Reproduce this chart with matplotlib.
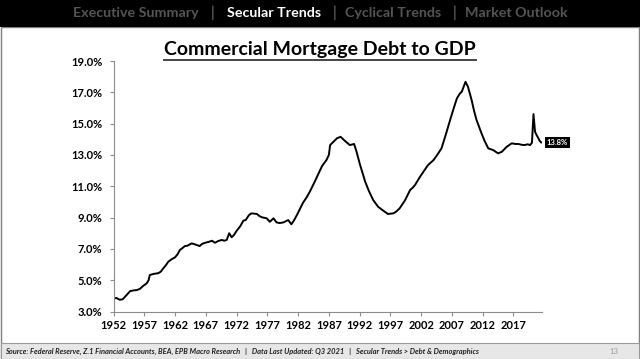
import matplotlib
matplotlib.use("Agg")
import matplotlib.pyplot as plt
from matplotlib.patches import Rectangle
from matplotlib.ticker import FuncFormatter

plt.rcParams['font.family'] = ['Lato', 'DejaVu Sans']

title = "Commercial Mortgage Debt to GDP"
nav_items = ["Executive Summary", "Secular Trends", "Cyclical Trends", "Market Outlook"]
footer = ("Source: Federal Reserve, Z.1 Financial Accounts, BEA, EPB Macro Research   |   "
          "Data Last Updated: Q3 2021   |   Secular Trends > Debt & Demographics")
page_no = "13"

years = [1952.0, 1952.5, 1953.0, 1953.5, 1954.0, 1954.7, 1955.3, 1955.8, 1956.3, 1956.8,
         1957.4, 1957.7, 1957.9, 1958.5, 1959.3, 1959.7, 1960.1, 1960.5, 1960.9, 1961.5,
         1962.0, 1962.4, 1962.8, 1963.2, 1963.6, 1964.0, 1964.7, 1965.3, 1966.0, 1966.4,
         1966.9, 1967.5, 1968.0, 1968.5, 1969.0, 1969.6, 1970.0, 1970.4, 1970.8, 1971.2,
         1971.6, 1972.0, 1972.6, 1973.1, 1973.5, 1974.0, 1974.4, 1975.3, 1975.7, 1976.1,
         1976.9, 1977.4, 1978.0, 1978.5, 1979.0, 1979.6, 1980.4, 1980.9, 1981.3, 1981.8,
         1982.3, 1982.8, 1983.4, 1983.9, 1984.7, 1985.3, 1985.9, 1986.6, 1987.0, 1987.2,
         1988.3, 1988.9, 1989.6, 1990.4, 1991.1, 1991.5, 1992.0, 1992.9, 1993.5, 1994.2,
         1995.0, 1995.8, 1996.6, 1997.5, 1998.0, 1998.5, 1999.4, 2000.2, 2000.6, 2001.0,
         2001.8, 2002.5, 2003.1, 2004.0, 2004.6, 2005.3, 2006.0, 2006.7, 2007.3, 2007.8,
         2008.3, 2008.6, 2009.2, 2009.6, 2010.2, 2010.6, 2011.0, 2011.8, 2012.3, 2012.9,
         2013.7, 2014.5, 2015.1, 2015.9, 2016.7, 2017.3, 2017.8, 2018.3, 2018.8, 2019.3,
         2019.7, 2020.0, 2020.25, 2020.5, 2020.75, 2021.0, 2021.25, 2021.5]
values = [3.84, 3.86, 3.75, 3.78, 4.00, 4.30, 4.35, 4.37, 4.45, 4.63,
          4.80, 5.00, 5.33, 5.40, 5.45, 5.55, 5.76, 5.95, 6.18, 6.35,
          6.46, 6.65, 6.93, 7.05, 7.18, 7.20, 7.35, 7.28, 7.18, 7.32,
          7.39, 7.45, 7.52, 7.39, 7.50, 7.57, 7.52, 7.57, 8.00, 7.74,
          7.90, 8.15, 8.45, 8.80, 8.85, 9.15, 9.27, 9.23, 9.10, 9.02,
          8.95, 8.73, 8.95, 8.69, 8.65, 8.69, 8.84, 8.57, 8.80, 9.16,
          9.55, 9.95, 10.30, 10.65, 11.29, 11.80, 12.30, 12.67, 13.00, 13.63,
          14.06, 14.16, 13.90, 13.63, 13.70, 13.20, 12.46, 11.29, 10.70, 10.12,
          9.69, 9.45, 9.23, 9.27, 9.40, 9.59, 10.12, 10.76, 10.90, 11.08,
          11.60, 12.00, 12.35, 12.67, 13.00, 13.42, 14.30, 15.23, 16.00, 16.61,
          16.93, 17.04, 17.67, 17.36, 16.50, 15.80, 15.23, 14.38, 13.90, 13.42,
          13.31, 13.10, 13.20, 13.52, 13.74, 13.70, 13.70, 13.65, 13.63, 13.68,
          13.63, 13.78, 15.61, 14.48, 14.27, 14.10, 13.90, 13.80]

x_ticks = list(range(1952, 2018, 5))
y_ticks = list(range(3, 20, 2))

W, H = 640, 359
fig = plt.figure(figsize=(W / 100, H / 100), dpi=100)
fig.patch.set_facecolor("white")

def fx(px):
    return px / W

def fy(py):
    return 1 - py / H

# page frame
fig.patches.append(Rectangle((fx(0.5), 0), fx(638.5), fy(27), transform=fig.transFigure,
                             facecolor="none", edgecolor="#7f7f7f", lw=1.0, zorder=0))
# top nav bar
fig.patches.append(Rectangle((0, fy(27)), 1, 27 / H, transform=fig.transFigure,
                             facecolor="black", edgecolor="none", zorder=1))
nav_x = [136, 274.5, 393.5, 516.5]
sep_x = [212, 334, 454]
for i, (t, x) in enumerate(zip(nav_items, nav_x)):
    fig.text(fx(x), fy(13), t, ha="center", va="center", fontsize=10.3, fontweight="bold",
             color="white" if i == 1 else "#555555", zorder=2)
for x in sep_x:
    fig.text(fx(x), fy(13), "|", ha="center", va="center", fontsize=10.5,
             color="#777777", zorder=2)

# footer band
fig.patches.append(Rectangle((fx(1), 0), fx(637.5), 16 / H, transform=fig.transFigure,
                             facecolor="#e7e7e7", edgecolor="#9a9a9a", lw=0.8, zorder=1))
fig.text(fx(5), fy(351), footer, ha="left", va="center", fontsize=5.4, style="italic",
         fontweight="bold", color="#222222", zorder=2)
fig.text(fx(614), fy(351), page_no, ha="center", va="center", fontsize=5.6,
         color="#999999", zorder=2)

# title
t = fig.text(0.5, fy(49), title, ha="center", va="center", fontsize=14,
             fontweight="bold", color="black")
fig.canvas.draw()
bb = t.get_window_extent()
fig.add_artist(plt.Line2D([bb.x0 / W, bb.x1 / W], [fy(59.5), fy(59.5)],
                          transform=fig.transFigure, color="#444444", lw=1.4))

ax = fig.add_axes([fx(113.5), fy(311.5), fx(541.8 - 113.5), (311.5 - 61) / H])
ax.set_zorder(5)
ax.plot(years, values, color="black", lw=1.4, solid_joinstyle="round")
ax.set_xlim(1952, 2021.6)
ax.set_ylim(3, 19)
ax.set_xticks(x_ticks)
ax.set_yticks(y_ticks)
ax.yaxis.set_major_formatter(FuncFormatter(lambda v, p: f"{v:.1f}%"))
for s in ["top", "right"]:
    ax.spines[s].set_visible(False)
for s in ["left", "bottom"]:
    ax.spines[s].set_color("#8c8c8c")
    ax.spines[s].set_linewidth(0.8)
ax.tick_params(axis="both", colors="#8c8c8c", length=3, width=0.8, labelcolor="black",
               labelsize=8)
ax.tick_params(axis="y", pad=5)
ax.tick_params(axis="x", pad=3)
for lab in ax.get_xticklabels() + ax.get_yticklabels():
    lab.set_fontweight("bold")
ax.patch.set_alpha(0)

ax.annotate(f"{values[-1]:.1f}%", xy=(years[-1], values[-1]), xytext=(4, 0),
            textcoords="offset points", ha="left", va="center", fontsize=5.5,
            fontweight="bold", color="white",
            bbox=dict(boxstyle="square,pad=0.25", fc="black", ec="none"),
            annotation_clip=False)

fig.savefig("out.png", dpi=100)
